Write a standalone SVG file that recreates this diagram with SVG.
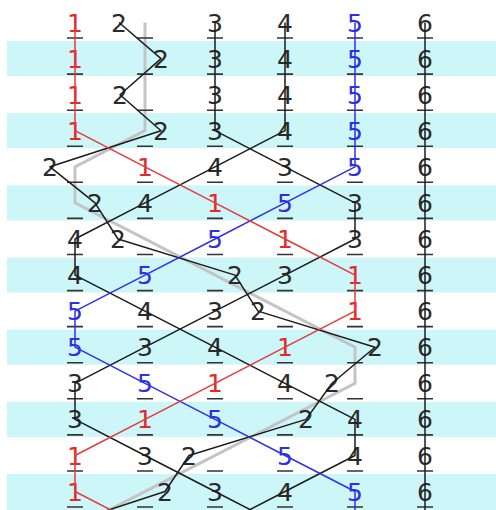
<svg xmlns="http://www.w3.org/2000/svg" width="496" height="510" viewBox="0 0 496 510">
<style>
.band{fill:#cdf6f9}
.tick{stroke:#333;stroke-width:1.6;stroke-dasharray:16 54;fill:none}
.gray{stroke:#c4c4c4;stroke-width:3;fill:none;stroke-linejoin:miter}
.w{fill:none;stroke-width:1.5;stroke-linejoin:round}
.wk{stroke:#1c1c1c}
.wr{stroke:#e43b3b}
.wb{stroke:#3030e6}
text{font-family:"DejaVu Sans","Liberation Sans",sans-serif;font-size:25px;text-anchor:middle}
.k{fill:#2a2a2a}
.r{fill:#e22a2a}
.b{fill:#2f2fe0}
</style>
<g id="background">
<rect class="band" x="7" y="41.1" width="489" height="35"/>
<rect class="band" x="7" y="113.2" width="489" height="35"/>
<rect class="band" x="7" y="185.4" width="489" height="35"/>
<rect class="band" x="7" y="257.6" width="489" height="35"/>
<rect class="band" x="7" y="329.7" width="489" height="35"/>
<rect class="band" x="7" y="401.9" width="489" height="35"/>
<rect class="band" x="7" y="474" width="489" height="36"/>
</g>
<g id="trace">
<polyline class="gray" points="145,22.5 145,130.7 75,166.8 75,202.9 355,347.2 355,383.3 75,527.6"/>
</g>
<g id="ticks">
<line class="tick" x1="67" y1="38" x2="433" y2="38"/>
<line class="tick" x1="67" y1="74.1" x2="433" y2="74.1"/>
<line class="tick" x1="67" y1="110.2" x2="433" y2="110.2"/>
<line class="tick" x1="67" y1="146.2" x2="433" y2="146.2"/>
<line class="tick" x1="67" y1="182.3" x2="433" y2="182.3"/>
<line class="tick" x1="67" y1="218.4" x2="433" y2="218.4"/>
<line class="tick" x1="67" y1="254.5" x2="433" y2="254.5"/>
<line class="tick" x1="67" y1="290.6" x2="433" y2="290.6"/>
<line class="tick" x1="67" y1="326.6" x2="433" y2="326.6"/>
<line class="tick" x1="67" y1="362.7" x2="433" y2="362.7"/>
<line class="tick" x1="67" y1="398.8" x2="433" y2="398.8"/>
<line class="tick" x1="67" y1="434.9" x2="433" y2="434.9"/>
<line class="tick" x1="67" y1="471" x2="433" y2="471"/>
<line class="tick" x1="67" y1="507" x2="433" y2="507"/>
</g>
<g id="row0"><text class="r" x="75" y="31.5">1</text><text class="k" x="119" y="31.5">2</text><text class="k" x="215" y="31.5">3</text><text class="k" x="285" y="31.5">4</text><text class="b" x="355" y="31.5">5</text><text class="k" x="425" y="31.5">6</text></g>
<g id="row1"><text class="r" x="75" y="67.6">1</text><text class="k" x="161" y="67.6">2</text><text class="k" x="215" y="67.6">3</text><text class="k" x="285" y="67.6">4</text><text class="b" x="355" y="67.6">5</text><text class="k" x="425" y="67.6">6</text></g>
<g id="row2"><text class="r" x="75" y="103.7">1</text><text class="k" x="120" y="103.7">2</text><text class="k" x="215" y="103.7">3</text><text class="k" x="285" y="103.7">4</text><text class="b" x="355" y="103.7">5</text><text class="k" x="425" y="103.7">6</text></g>
<g id="row3"><text class="r" x="75" y="139.7">1</text><text class="k" x="161" y="139.7">2</text><text class="k" x="215" y="139.7">3</text><text class="k" x="285" y="139.7">4</text><text class="b" x="355" y="139.7">5</text><text class="k" x="425" y="139.7">6</text></g>
<g id="row4"><text class="k" x="50" y="175.8">2</text><text class="r" x="145" y="175.8">1</text><text class="k" x="215" y="175.8">4</text><text class="k" x="285" y="175.8">3</text><text class="b" x="355" y="175.8">5</text><text class="k" x="425" y="175.8">6</text></g>
<g id="row5"><text class="k" x="95" y="211.9">2</text><text class="k" x="145" y="211.9">4</text><text class="r" x="215" y="211.9">1</text><text class="b" x="285" y="211.9">5</text><text class="k" x="355" y="211.9">3</text><text class="k" x="425" y="211.9">6</text></g>
<g id="row6"><text class="k" x="75" y="248">4</text><text class="k" x="118" y="248">2</text><text class="b" x="215" y="248">5</text><text class="r" x="285" y="248">1</text><text class="k" x="355" y="248">3</text><text class="k" x="425" y="248">6</text></g>
<g id="row7"><text class="k" x="75" y="284.1">4</text><text class="b" x="145" y="284.1">5</text><text class="k" x="235" y="284.1">2</text><text class="k" x="285" y="284.1">3</text><text class="r" x="355" y="284.1">1</text><text class="k" x="425" y="284.1">6</text></g>
<g id="row8"><text class="b" x="75" y="320.1">5</text><text class="k" x="145" y="320.1">4</text><text class="k" x="215" y="320.1">3</text><text class="k" x="258" y="320.1">2</text><text class="r" x="355" y="320.1">1</text><text class="k" x="425" y="320.1">6</text></g>
<g id="row9"><text class="b" x="75" y="356.2">5</text><text class="k" x="145" y="356.2">3</text><text class="k" x="215" y="356.2">4</text><text class="r" x="285" y="356.2">1</text><text class="k" x="375" y="356.2">2</text><text class="k" x="425" y="356.2">6</text></g>
<g id="row10"><text class="k" x="75" y="392.3">3</text><text class="b" x="145" y="392.3">5</text><text class="r" x="215" y="392.3">1</text><text class="k" x="285" y="392.3">4</text><text class="k" x="332" y="392.3">2</text><text class="k" x="425" y="392.3">6</text></g>
<g id="row11"><text class="k" x="75" y="428.4">3</text><text class="r" x="145" y="428.4">1</text><text class="b" x="215" y="428.4">5</text><text class="k" x="306" y="428.4">2</text><text class="k" x="355" y="428.4">4</text><text class="k" x="425" y="428.4">6</text></g>
<g id="row12"><text class="r" x="75" y="464.5">1</text><text class="k" x="145" y="464.5">3</text><text class="k" x="189" y="464.5">2</text><text class="b" x="285" y="464.5">5</text><text class="k" x="355" y="464.5">4</text><text class="k" x="425" y="464.5">6</text></g>
<g id="row13"><text class="r" x="75" y="500.5">1</text><text class="k" x="165" y="500.5">2</text><text class="k" x="215" y="500.5">3</text><text class="k" x="285" y="500.5">4</text><text class="b" x="355" y="500.5">5</text><text class="k" x="425" y="500.5">6</text></g>
<g id="connectors">
<polyline class="w wk" points="425,22.5 425,527.6"/>
<polyline class="w wk" points="215,22.5 215,130.7 285,166.8 355,202.9 355,239 285,275.1 215,311.1 145,347.2 75,383.3 75,419.4 145,455.5 215,491.5 285,527.6"/>
<polyline class="w wk" points="285,22.5 285,130.7 215,166.8 145,202.9 75,239 75,275.1 145,311.1 215,347.2 285,383.3 355,419.4 355,455.5 285,491.5 215,527.6"/>
<polyline class="w wk" points="119,22.5 161,58.6 120,94.7 161,130.7 50,166.8 95,202.9 118,239 235,275.1 258,311.1 375,347.2 332,383.3 306,419.4 189,455.5 165,491.5 55,527.6"/>
<polyline class="w wb" points="355,22.5 355,166.8 285,202.9 215,239 145,275.1 75,311.1 75,347.2 145,383.3 215,419.4 285,455.5 355,491.5 355,527.6"/>
<polyline class="w wr" points="75,22.5 75,130.7 145,166.8 215,202.9 285,239 355,275.1 355,311.1 285,347.2 215,383.3 145,419.4 75,455.5 75,491.5 145,527.6"/>
</g>
</svg>
